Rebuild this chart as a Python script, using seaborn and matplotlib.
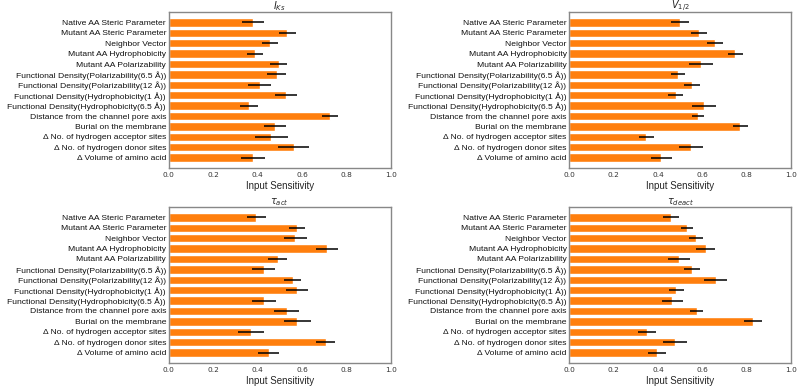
import pandas as pd
import matplotlib
matplotlib.use("Agg")
import matplotlib.pyplot as plt
import seaborn as sns

features = [
    "Native AA Steric Parameter",
    "Mutant AA Steric Parameter",
    "Neighbor Vector",
    "Mutant AA Hydrophobicity",
    "Mutant AA Polarizability",
    "Functional Density(Polarizability(6.5 Å))",
    "Functional Density(Polarizability(12 Å))",
    "Functional Density(Hydrophobicity(1 Å))",
    "Functional Density(Hydrophobicity(6.5 Å))",
    "Distance from the channel pore axis",
    "Burial on the membrane",
    "Δ No. of hydrogen acceptor sites",
    "Δ No. of hydrogen donor sites",
    "Δ Volume of amino acid",
]

titles = ["$I_{Ks}$", "$V_{1/2}$", "$\\tau_{act}$", "$\\tau_{deact}$"]

iks_mean = [0.380, 0.534, 0.456, 0.388, 0.495, 0.486, 0.409, 0.528, 0.361, 0.726, 0.478, 0.463, 0.564, 0.380]
iks_err = [0.051, 0.038, 0.038, 0.036, 0.040, 0.042, 0.054, 0.049, 0.041, 0.035, 0.050, 0.074, 0.070, 0.053]

v12_mean = [0.498, 0.585, 0.657, 0.748, 0.594, 0.489, 0.553, 0.480, 0.607, 0.580, 0.770, 0.347, 0.547, 0.415]
v12_err = [0.042, 0.036, 0.036, 0.033, 0.055, 0.030, 0.036, 0.034, 0.052, 0.028, 0.033, 0.035, 0.054, 0.046]

act_mean = [0.395, 0.579, 0.571, 0.714, 0.492, 0.429, 0.558, 0.579, 0.429, 0.531, 0.579, 0.371, 0.708, 0.451]
act_err = [0.044, 0.037, 0.050, 0.050, 0.043, 0.052, 0.038, 0.050, 0.056, 0.055, 0.060, 0.059, 0.043, 0.047]

deact_mean = [0.458, 0.530, 0.571, 0.615, 0.494, 0.553, 0.659, 0.482, 0.464, 0.574, 0.828, 0.350, 0.476, 0.396]
deact_err = [0.037, 0.029, 0.032, 0.043, 0.048, 0.036, 0.051, 0.035, 0.047, 0.029, 0.040, 0.040, 0.056, 0.040]

means = [iks_mean, v12_mean, act_mean, deact_mean]
errs = [iks_err, v12_err, act_err, deact_err]

sns.set_style("white")
plt.rcParams["font.family"] = ["Liberation Sans", "DejaVu Sans"]
plt.rcParams["mathtext.fontset"] = "dejavusans"

fig, axes = plt.subplots(2, 2, figsize=(8, 3.89), dpi=100)
fig.subplots_adjust(left=0.211, right=0.989, top=0.969, bottom=0.067, wspace=0.806, hspace=0.25)

for ax, title, m, e in zip(axes.flat, titles, means, errs):
    df = pd.DataFrame({"feature": features, "value": m, "err": e})
    sns.barplot(data=df, x="value", y="feature", color="#ff7f0e", saturation=1,
                width=0.8, errorbar=None, ax=ax)
    ax.errorbar(df["value"], range(len(df)), xerr=df["err"], fmt="none",
                ecolor="black", elinewidth=1.1, capsize=0)
    ax.set_xlim(0, 1.0)
    ax.set_ylim(len(features), -1)
    ax.set_title(title, fontsize=7, pad=2)
    ax.set_xlabel("Input Sensitivity", fontsize=7, labelpad=2)
    ax.set_ylabel("")
    ax.tick_params(axis="y", labelsize=6.1, length=0, pad=2, labelcolor="#111111")
    ax.tick_params(axis="x", labelsize=5.3, length=0, pad=3, labelcolor="#333333")
    for lab in ax.get_xticklabels():
        lab.set_family("DejaVu Sans")
    for s in ax.spines.values():
        s.set_color("#888888")
        s.set_linewidth(1.0)

fig.savefig("out.png", dpi=100)
